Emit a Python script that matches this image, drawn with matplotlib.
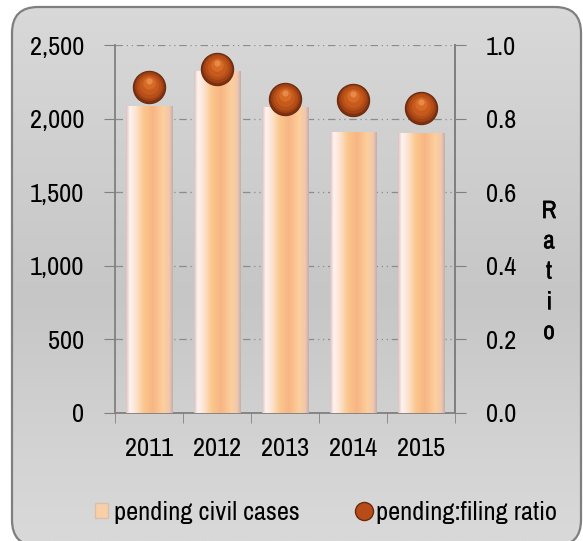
#!/usr/bin/env python
import matplotlib
matplotlib.use('Agg')
import matplotlib.pyplot as plt
import matplotlib.patheffects as pe
import numpy as np
from matplotlib.patches import FancyBboxPatch, Patch
from matplotlib.lines import Line2D
from matplotlib.colors import LinearSegmentedColormap
from matplotlib import transforms

# data
years = ['2011', '2012', '2013', '2014', '2015']
pending_cases = [2086, 2325, 2077, 1911, 1904]
pending_filing_ratio = [0.885, 0.935, 0.853, 0.851, 0.830]
left_ticks = [0, 500, 1000, 1500, 2000, 2500]
right_ticks = [0.0, 0.2, 0.4, 0.6, 0.8, 1.0]

plt.rcParams.update({
    'font.family': ['Archivo Narrow', 'Liberation Sans', 'DejaVu Sans'],
    'font.size': 19,
})

fig = plt.figure(figsize=(5.83, 5.41), dpi=100)
fig.patch.set_facecolor('white')


def chart_box(**kw):
    # rounded chart area, in inches so the corners stay round
    return FancyBboxPatch((0.12, -0.05), 5.69, 5.39,
                          boxstyle='round,pad=0,rounding_size=0.26',
                          transform=fig.dpi_scale_trans, **kw)


fig.patches.append(chart_box(facecolor='none', edgecolor='#7f7f7f',
                             linewidth=1.6, zorder=2))
bg_cmap = LinearSegmentedColormap.from_list(
    'bg', [(0, '#d9d9d9'), (0.55, '#c6c6c6'), (0.85, '#d4d4d4'), (1, '#d9d9d9')])
bg_ax = fig.add_axes([0, 0, 1, 1], zorder=-1)
bg_ax.set_axis_off()
bg = bg_ax.imshow(np.linspace(0, 1, 256).reshape(-1, 1), cmap=bg_cmap,
                  aspect='auto', extent=(0, 1, 0, 1), origin='upper')
bg.set_clip_path(chart_box())

ax = fig.add_axes([115 / 583, 1 - 413 / 541, 340 / 583, 368 / 541])
ax.set_facecolor('none')
x = np.arange(len(years))

# bars with a glossy horizontal gradient
bar_cmap = LinearSegmentedColormap.from_list(
    'bar', [(0, '#d9c2c2'), (0.08, '#fff3f0'), (0.2, '#fde4d2'),
            (0.38, '#fbc68c'), (0.58, '#f8b585'), (0.8, '#fcd09c'),
            (0.93, '#f1c6ae'), (1, '#c4aeae')])
bars = ax.bar(x, pending_cases, width=0.68, color='none', edgecolor='none', zorder=3)
for b in bars:
    img = ax.imshow(np.linspace(0, 1, 128).reshape(1, -1), cmap=bar_cmap,
                    aspect='auto', zorder=3,
                    extent=(b.get_x(), b.get_x() + b.get_width(), 0, b.get_height()))
    img.set_clip_path(b)

ax.set_xlim(-0.5, len(years) - 0.5)
ax.set_ylim(0, 2500)
ax.set_yticks(left_ticks)
ax.set_yticklabels(['{:,}'.format(v) for v in left_ticks])
ax.set_xticks(x)
ax.set_xticklabels(years)
ax.set_xticks(np.arange(len(years) + 1) - 0.5, minor=True)
ax.tick_params(axis='x', which='major', length=0, pad=17)
ax.tick_params(axis='x', which='minor', length=7, direction='out', color='#808080')
ax.tick_params(axis='y', length=8, color='#808080', pad=14)
ax.grid(axis='y', color='#8c8c8c', linewidth=0.9,
        linestyle=(0, (6, 3, 1, 3, 1, 3)), zorder=1)
ax.spines['top'].set_visible(False)
for s in ['left', 'bottom', 'right']:
    ax.spines[s].set_color('#808080')
    ax.spines[s].set_linewidth(1.3)

# ratio on secondary axis, drawn as shaded spheres
ax2 = ax.twinx()
ax2.set_ylim(0, 1.0)
ax2.set_yticks(right_ticks)
ax2.set_yticklabels(['{:.1f}'.format(v) for v in right_ticks])
ax2.tick_params(axis='y', length=8, color='#808080', pad=14)
for s in ['top', 'left', 'bottom']:
    ax2.spines[s].set_visible(False)
ax2.spines['right'].set_color('#808080')
ax2.spines['right'].set_linewidth(1.3)

ax2.scatter(x, pending_filing_ratio, s=540, color='#7e300f',
            edgecolor='#6a2a0c', linewidth=0.8, zorder=5)
layers = [(430, '#a04115', 1), (310, '#b64e18', 1.5), (190, '#c65a1c', 2),
          (80, '#d66a26', 4), (20, '#e58a48', 6)]
for size, col, dy in layers:
    tr = transforms.offset_copy(ax2.transData, fig=fig, x=0, y=dy, units='dots')
    ax2.scatter(x, pending_filing_ratio, s=size, color=col, linewidth=0,
                transform=tr, zorder=6)

fig.text(549 / 583, 1 - 271 / 541, 'R\na\nt\ni\no', ha='center', va='center',
         fontsize=18, linespacing=1.38,
         path_effects=[pe.withStroke(linewidth=0.4, foreground='black')])

handles = [Patch(facecolor='#f8cfa6', edgecolor='#d8c0b0'),
           Line2D([], [], marker='o', linestyle='none', markersize=13,
                  markerfacecolor='#b84c18', markeredgecolor='#6a2a0c')]
fig.legend(handles, ['pending civil cases', 'pending:filing ratio'],
           loc='center', bbox_to_anchor=(326 / 583, 1 - 512 / 541), ncol=2,
           frameon=False, fontsize=19, handlelength=0.5, handleheight=0.5,
           handletextpad=0.2, columnspacing=2.2)

fig.savefig('out.png', dpi=100)
